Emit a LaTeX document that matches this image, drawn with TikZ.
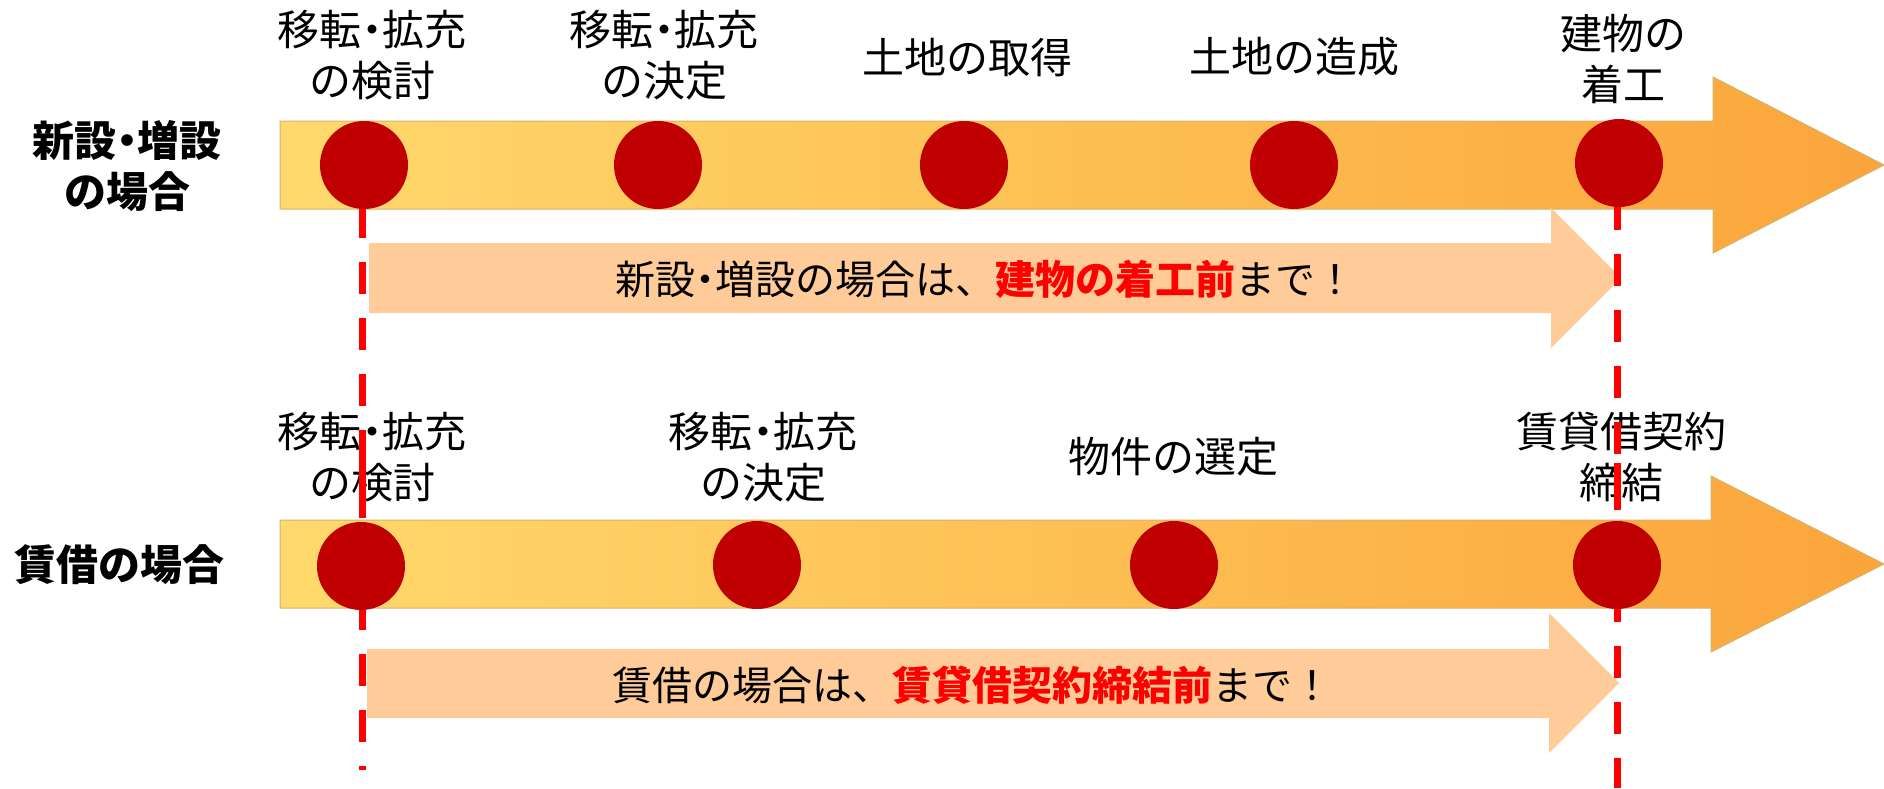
\documentclass[tikz,border=0pt]{standalone}
\usepackage{fontspec}
\setmainfont{Noto Sans CJK JP}
\definecolor{dotred}{HTML}{C00000}
\definecolor{linered}{HTML}{FF0000}
\definecolor{peach}{HTML}{FFCC99}
\definecolor{barL}{HTML}{FFD96C}
\definecolor{barR}{HTML}{FBA53B}
\definecolor{barline}{HTML}{D2B36E}
\begin{document}
\begin{tikzpicture}[x=1pt,y=-1pt,
  dot/.style={circle,fill=dotred,minimum size=88pt,inner sep=0pt},
  lbl/.style={font=\fontsize{42}{51}\selectfont,align=center,inner sep=0pt},
  casetxt/.style={font=\bfseries\fontsize{42}{51}\selectfont,align=center,inner sep=0pt},
  notetxt/.style={font=\fontsize{40}{48}\selectfont,inner sep=0pt},
  vline/.style={draw=linered,line width=7pt,dash pattern=on 32pt off 24pt},
  vfill/.style={draw=linered,line width=7pt},
  bigarrow/.style={left color=barL,right color=barR,draw=barline,line width=1pt},
  smallarrow/.style={fill=peach}]
\useasboundingbox (0,0) rectangle (1884,788);

% big timeline arrows
\shadedraw[bigarrow] (280,121) -- (1713,121) -- (1713,77) -- (1884,165) -- (1713,253) -- (1713,209) -- (280,209) -- cycle;
\shadedraw[bigarrow] (280,520) -- (1711,520) -- (1711,476) -- (1884,564) -- (1711,652) -- (1711,608) -- (280,608) -- cycle;

% peach arrows
\fill[smallarrow] (369,243) -- (1551,243) -- (1551,208) -- (1621,278) -- (1551,348) -- (1551,313) -- (369,313) -- cycle;
\fill[smallarrow] (367,649) -- (1549,649) -- (1549,613) -- (1619,683) -- (1549,753) -- (1549,718) -- (367,718) -- cycle;

% case labels
\node[casetxt] (caseA) at (127,166) {新設\kern-.25em・\kern-.25em増設\\の場合};
\node[casetxt] (caseB) at (119,565) {賃借の場合};

% top row labels
\node[lbl] (tA1) at (372,55) {移転\kern-.25em・\kern-.25em拡充\\の検討};
\node[lbl] (tA2) at (664,55) {移転\kern-.25em・\kern-.25em拡充\\の決定};
\node[lbl] (tA3) at (967,58) {土地の取得};
\node[lbl] (tA4) at (1294,57) {土地の造成};
\node[lbl] (tA5) at (1623,59) {建物の\\着工};

% bottom row labels
\node[lbl] (tB1) at (372,457) {移転\kern-.25em・\kern-.25em拡充\\の検討};
\node[lbl] (tB2) at (763,457) {移転\kern-.25em・\kern-.25em拡充\\の決定};
\node[lbl] (tB3) at (1173,457) {物件の選定};
\node[lbl] (tB4) at (1621,457) {賃貸借契約\\締結};

% notes
\node[notetxt] (noteA) at (985,279) {新設\kern-.25em・\kern-.25em増設の場合は、{\bfseries\color{linered}建物の着工前}まで！};
\node[notetxt] (noteB) at (972,685) {賃借の場合は、{\bfseries\color{linered}賃貸借契約締結前}まで！};

% dashed deadline lines
\coordinate (La) at (362,150);
\coordinate (Lb) at (362,770);
\coordinate (Ra) at (1617,142);
\coordinate (Rb) at (1617,788);
\coordinate (Lf1) at (362,462);
\coordinate (Lf2) at (362,486);
\coordinate (Rf1) at (1617,463);
\coordinate (Rf2) at (1617,479);
\draw[vline] (La) -- (Lb);
\draw[vline] (Ra) -- (Rb);
\draw[vfill] (Lf1) -- (Lf2);
\draw[vfill] (Rf1) -- (Rf2);

% milestone dots
\node[dot] (a1) at (364,165) {};
\node[dot] (a2) at (658,165) {};
\node[dot] (a3) at (964,165) {};
\node[dot] (a4) at (1294,165) {};
\node[dot] (a5) at (1619,163) {};
\node[dot] (b1) at (361,566) {};
\node[dot] (b2) at (757,565) {};
\node[dot] (b3) at (1174,565) {};
\node[dot] (b4) at (1617,565) {};
\end{tikzpicture}
\end{document}
